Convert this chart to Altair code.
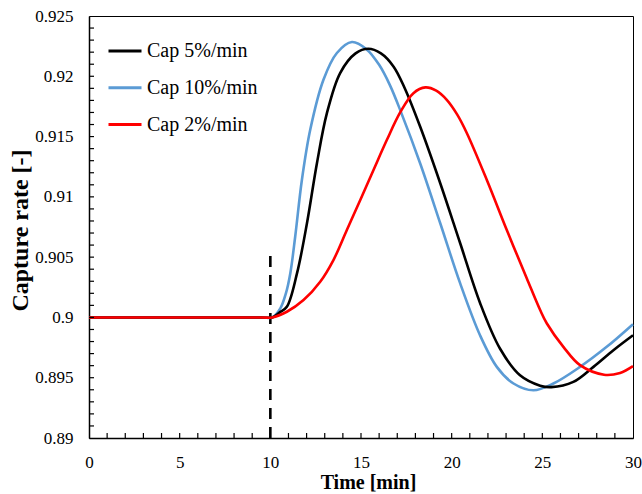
import altair as alt
import pandas as pd

FONT = "Liberation Serif"

series_names = ["Cap 5%/min", "Cap 10%/min", "Cap 2%/min"]
series_colors = ["#000000", "#5B9BD5", "#FF0000"]

t_5 = [0, 9.5, 10.1, 10.5, 10.91, 11.47, 12.02, 12.57, 13.12, 13.85, 14.7, 15.4, 16.1, 16.8,
       17.4, 18.26, 19.37, 20.47, 21.57, 22.67, 23.77, 24.88, 25.5, 26.71, 27.82, 28.92, 30.0]
y_5 = [0.9, 0.9, 0.9, 0.9004, 0.90088, 0.90365, 0.90781, 0.91279, 0.91694, 0.92027, 0.9219, 0.92228, 0.9219, 0.9208,
       0.91905, 0.91583, 0.91113, 0.90615, 0.90118, 0.8974, 0.8952, 0.89434, 0.89422, 0.89465, 0.8959, 0.89728, 0.89852]

t_10 = [0, 9.5, 10.1, 10.55, 10.85, 11.10, 11.37, 11.74, 12.2, 12.93, 13.67, 14.5, 15.3, 16.0, 16.6,
        17.2, 18.26, 19.37, 20.47, 21.57, 22.49, 23.41, 24.51, 25.61, 27.08, 28.55, 30.0]
y_10 = [0.9, 0.9, 0.9, 0.90075, 0.90195, 0.90365, 0.90669, 0.9114, 0.91556, 0.91971, 0.92193, 0.92284, 0.92225, 0.92095, 0.91925,
        0.91705, 0.91279, 0.90781, 0.90282, 0.8985, 0.8959, 0.89452, 0.89396, 0.89452, 0.8959, 0.89756, 0.89944]

t_2 = [0, 9.5, 10.1, 10.91, 11.83, 12.75, 13.48, 14.22, 14.96, 15.69, 16.43, 17.16, 17.89, 18.55,
       19.15, 19.73, 20.3, 20.84, 21.94, 23.04, 24.14, 24.88, 25.25, 26.16, 27.08, 28.4, 29.29, 30.0]
y_2 = [0.9, 0.9, 0.9, 0.90047, 0.90144, 0.90296, 0.90476, 0.90725, 0.90974, 0.91223, 0.91473, 0.917, 0.9186, 0.91908,
       0.91881, 0.91805, 0.91684, 0.91528, 0.9114, 0.90725, 0.90325, 0.90061, 0.8995, 0.89756, 0.89604, 0.89525, 0.8954, 0.89596]

x_major = [0, 5, 10, 15, 20, 25, 30]
y_major = [0.89, 0.895, 0.9, 0.905, 0.91, 0.915, 0.92, 0.925]
x_minor = list(range(1, 30))
y_minor = [round(0.89 + 0.001 * i, 3) for i in range(1, 35)]

step_time = [10]
step_low = [0.89]
step_high = [0.90517]

W, H = 544, 422
X_DOM = [0, 30]
Y_DOM = [0.89, 0.925]
TICK_PX = 5
x_tick_len = TICK_PX / W * (X_DOM[1] - X_DOM[0])
y_tick_len = TICK_PX / H * (Y_DOM[1] - Y_DOM[0])

rows = []
for name, ts, ys in [(series_names[0], t_5, y_5), (series_names[1], t_10, y_10), (series_names[2], t_2, y_2)]:
    for t, y in zip(ts, ys):
        rows.append({"series": name, "time": t, "rate": y})
df = pd.DataFrame(rows)

xscale = alt.Scale(domain=X_DOM, nice=False, zero=False)
yscale = alt.Scale(domain=Y_DOM, nice=False, zero=False)
cscale = alt.Scale(domain=series_names, range=series_colors)

xaxis = alt.Axis(values=x_major, title="Time [min]", grid=False, ticks=False, tickSize=0,
                 labelFont=FONT, labelFontSize=17, labelColor="#000", labelBaseline="alphabetic",
                 labelPadding=29, labelFlush=False,
                 titleFont=FONT, titleFontSize=20, titleFontWeight="bold", titleColor="#000",
                 titleBaseline="alphabetic", titleX=279, titleY=50, titleAlign="center",
                 domainColor="#000", domainWidth=1.5)
yaxis = alt.Axis(values=y_major, format=".3~f", title="Capture rate [-]", grid=False, ticks=False, tickSize=0,
                 labelFont=FONT, labelFontSize=17, labelColor="#000", labelPadding=16, labelFlush=False,
                 titleFont=FONT, titleFontSize=24, titleFontWeight="bold", titleColor="#000",
                 titleBaseline="alphabetic", titleAngle=270, titleX=-62, titleY=214, titleAlign="center",
                 domainColor="#000", domainWidth=1.5)

legend = alt.Legend(title=None, orient="none", legendX=18, legendY=17, padding=0,
                    symbolType="stroke", symbolSize=1089, symbolStrokeWidth=3,
                    labelFont=FONT, labelFontSize=20, labelColor="#000", labelOffset=4,
                    rowPadding=8.8, labelLimit=300)

layers = []
for name in [series_names[1], series_names[0], series_names[2]]:
    layers.append(
        alt.Chart(df).transform_filter(alt.datum.series == name).mark_line(
            strokeWidth=2.6, interpolate="catmull-rom"
        ).encode(
            x=alt.X("time:Q", scale=xscale, axis=xaxis),
            y=alt.Y("rate:Q", scale=yscale, axis=yaxis),
            color=alt.Color("series:N", scale=cscale, legend=legend),
        )
    )

step_df = pd.DataFrame({"time": step_time, "low": step_low, "high": step_high})
step = alt.Chart(step_df).mark_rule(color="#000", strokeWidth=2.6, strokeDash=[11, 8]).encode(
    x=alt.X("time:Q", scale=xscale, axis=xaxis),
    y=alt.Y("low:Q", scale=yscale, axis=yaxis),
    y2="high:Q",
)

xt_df = pd.DataFrame({"time": x_minor, "low": [Y_DOM[0]] * len(x_minor),
                      "high": [Y_DOM[0] + y_tick_len] * len(x_minor)})
xt = alt.Chart(xt_df).mark_rule(color="#000", strokeWidth=1.2).encode(
    x=alt.X("time:Q", scale=xscale, axis=xaxis),
    y=alt.Y("low:Q", scale=yscale, axis=yaxis),
    y2="high:Q",
)
yt_df = pd.DataFrame({"rate": y_minor, "left": [X_DOM[0]] * len(y_minor),
                      "right": [X_DOM[0] + x_tick_len] * len(y_minor)})
yt = alt.Chart(yt_df).mark_rule(color="#000", strokeWidth=1.2).encode(
    y=alt.Y("rate:Q", scale=yscale, axis=yaxis),
    x=alt.X("left:Q", scale=xscale, axis=xaxis),
    x2="right:Q",
)

chart = alt.layer(step, *layers, xt, yt).properties(
    width=W, height=H,
    autosize=alt.AutoSizeParams(type="none"),
    padding={"left": 89, "top": 16, "right": 9, "bottom": 56},
    background="white",
).configure_view(stroke="#000", strokeWidth=1)

chart.save("out.html", embed_options={"renderer": "svg", "actions": False})
